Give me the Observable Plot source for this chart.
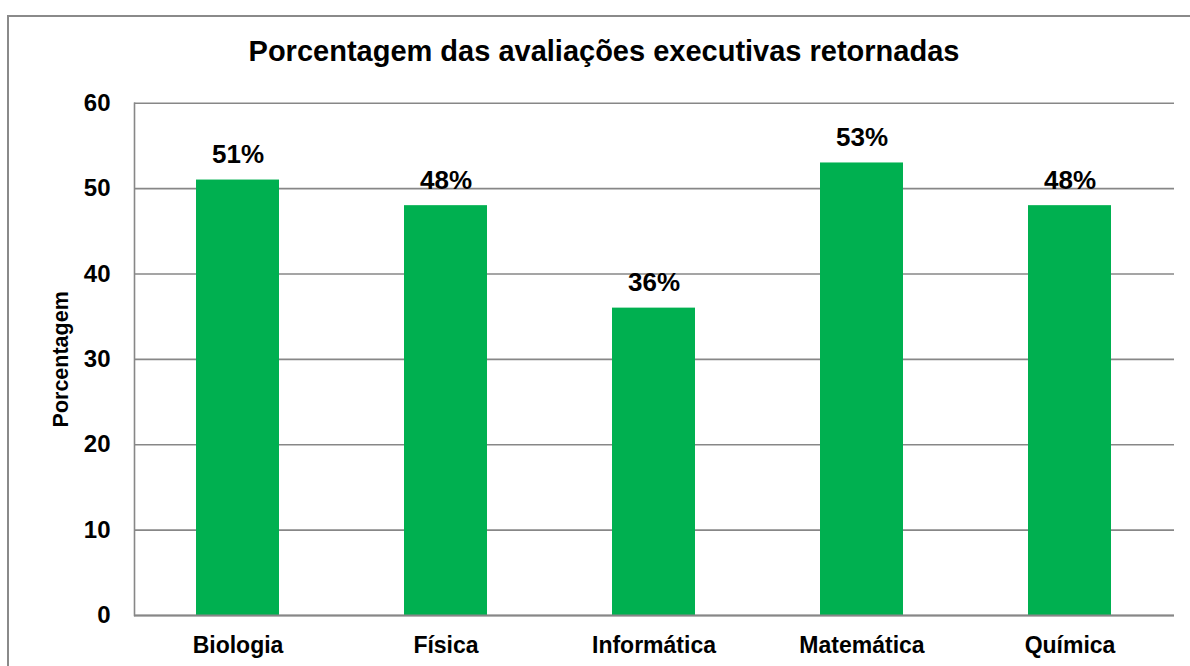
<!DOCTYPE html>
<html>
<head>
<meta charset="utf-8">
<script src="https://cdn.jsdelivr.net/npm/d3@7"></script>
<script src="https://cdn.jsdelivr.net/npm/@observablehq/plot@0.6"></script>
<style>
  html, body { margin: 0; padding: 0; background: #fff; }
  body { width: 1190px; height: 666px; overflow: hidden; position: relative; font-family: "Liberation Sans", Arial, sans-serif; }
  #border { position: absolute; left: 7px; top: 15px; width: 1300px; height: 800px; border-left: 2px solid #8a8a8a; border-top: 2px solid #8a8a8a; box-sizing: border-box; }
  #title { position: relative; height: 80px; width: 1208px; text-align: center; font-weight: bold; font-size: 29px; line-height: 29px; padding-top: 37px; box-sizing: border-box; color: #000; }
  #chart { position: relative; }
</style>
</head>
<body>
<div id="border"></div>
<div id="title">Porcentagem das avaliações executivas retornadas</div>
<div id="chart"></div>
<script>
const categories = ["Biologia", "Física", "Informática", "Matemática", "Química"];
const values = [51, 48, 36, 53, 48];
const valueLabels = ["51%", "48%", "36%", "53%", "48%"];
const yTicks = [0, 10, 20, 30, 40, 50, 60];
const yTitle = "Porcentagem";

const data = categories.map((c, i) => ({ category: c, value: values[i], label: valueLabels[i] }));

const font = "'Liberation Sans', Arial, sans-serif";
const grey = "#878787";

const chart = Plot.plot({
  width: 1190,
  height: 586,
  marginTop: 22.7,
  marginBottom: 51,
  marginLeft: 134,
  marginRight: 16,
  style: { fontFamily: font, fontWeight: "bold", color: "#000", background: "transparent" },
  x: { domain: categories, paddingInner: 0.6, paddingOuter: 0.3, label: null },
  y: { domain: [0, 60], label: null },
  marks: [
    Plot.gridY(yTicks, { stroke: grey, strokeOpacity: 1, strokeWidth: 1.6 }),
    Plot.frame({ anchor: "left", stroke: grey, strokeWidth: 1.6 }),
    Plot.barY(data, { x: "category", y: "value", fill: "#00B050" }),
    Plot.ruleY([0], { stroke: grey, strokeWidth: 2 }),
    Plot.axisY(yTicks, { tickSize: 0, tickPadding: 24, fontSize: 24, fontWeight: "bold", label: null }),
    Plot.axisX({ tickSize: 0, tickPadding: 21, fontSize: 23, fontWeight: "bold", label: null }),
    Plot.text(data, { x: "category", y: "value", text: "label", fontSize: 26, fontWeight: "bold", fill: "#000", dy: -25 }),
    Plot.text([yTitle], { frameAnchor: "left", textAnchor: "middle", dx: -73, rotate: -90, fontSize: 21.5, fontWeight: "bold", fill: "#000" })
  ]
});
document.getElementById("chart").appendChild(chart);
</script>
</body>
</html>
